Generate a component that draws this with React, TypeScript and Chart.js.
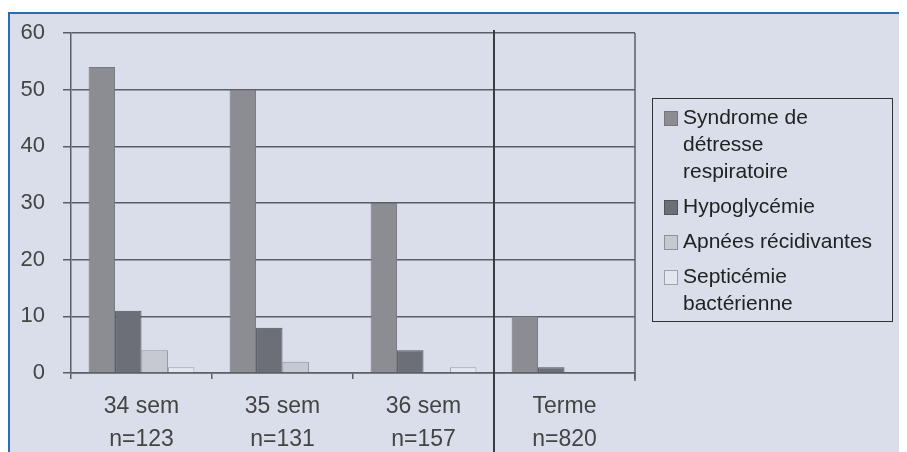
import React, { useEffect, useRef } from "react";
import { Chart, registerables } from "chart.js";

Chart.register(...registerables);

const categories: string[][] = [
  ["34 sem", "n=123"],
  ["35 sem", "n=131"],
  ["36 sem", "n=157"],
  ["Terme", "n=820"],
];
const syndromeValues = [54, 50, 30, 10];
const hypoglycemieValues = [11, 8, 4, 1];
const apneesValues = [4, 2, 0, 0];
const septicemieValues = [1, 0, 1, 0];

const legendLines: string[][] = [
  ["Syndrome de", "détresse", "respiratoire"],
  ["Hypoglycémie"],
  ["Apnées récidivantes"],
  ["Septicémie", "bactérienne"],
];
const fillColors = ["#8b8d93", "#6c6f78", "#c6c9d2", "#e4e7ef"];
const borderColors = ["#74767c", "#50535a", "#8e919a", "#9fa2ab"];

const FONT = "'Liberation Sans', Arial, Helvetica, sans-serif";

const extrasPlugin = {
  id: "extras",
  afterDatasetsDraw(chart: any) {
    const { ctx, chartArea, scales } = chart;
    const x = scales.x;
    ctx.save();
    ctx.strokeStyle = "#5b5e66";
    ctx.lineWidth = 1.5;
    ctx.beginPath();
    ctx.moveTo(chartArea.right, chartArea.top);
    ctx.lineTo(chartArea.right, chartArea.bottom + 8);
    ctx.stroke();
    const sep = (x.getPixelForTick(2) + x.getPixelForTick(3)) / 2;
    ctx.strokeStyle = "#3a3c42";
    ctx.lineWidth = 2;
    ctx.beginPath();
    ctx.moveTo(sep, chartArea.top - 3);
    ctx.lineTo(sep, chart.height);
    ctx.stroke();
    ctx.restore();
  },
  afterDraw(chart: any) {
    const { ctx, chartArea } = chart;
    const boxLeft = chartArea.right + 17;
    const boxTop = chartArea.top + 65;
    const boxW = 240;
    const boxH = 223;
    const lineH = 27;
    const itemGap = 8;
    ctx.save();
    ctx.strokeStyle = "#333";
    ctx.lineWidth = 1;
    ctx.strokeRect(boxLeft + 0.5, boxTop + 0.5, boxW, boxH);
    ctx.font = `21px ${FONT}`;
    ctx.textBaseline = "middle";
    ctx.textAlign = "left";
    let y = boxTop + 20;
    chart.data.datasets.forEach((ds: any, i: number) => {
      const lines = legendLines[i];
      ctx.fillStyle = ds.backgroundColor;
      ctx.strokeStyle = ds.borderColor;
      ctx.fillRect(boxLeft + 12, y - 7, 14, 15);
      ctx.strokeRect(boxLeft + 12.5, y - 6.5, 13, 14);
      ctx.fillStyle = "#222";
      lines.forEach((ln, j) => {
        ctx.fillText(ln, boxLeft + 31, y + j * lineH);
      });
      y += lines.length * lineH + itemGap;
    });
    ctx.restore();
  },
};

export default function App() {
  const ref = useRef<HTMLCanvasElement>(null);
  useEffect(() => {
    if (!ref.current) return;
    const series = [syndromeValues, hypoglycemieValues, apneesValues, septicemieValues];
    const chart = new Chart(ref.current, {
      type: "bar",
      data: {
        labels: categories,
        datasets: series.map((vals, i) => ({
          label: legendLines[i].join(" "),
          data: vals,
          backgroundColor: fillColors[i],
          borderColor: borderColors[i],
          borderWidth: 1,
          categoryPercentage: 0.75,
          barPercentage: 1,
        })),
      },
      options: {
        responsive: false,
        animation: false,
        devicePixelRatio: 1,
        layout: { padding: { top: 19, right: 272, left: 0, bottom: 0 } },
        plugins: { legend: { display: false }, tooltip: { enabled: false } },
        scales: {
          x: {
            grid: {
              offset: true,
              drawOnChartArea: false,
              drawTicks: true,
              tickLength: 6,
              color: "#5b5e66",
              lineWidth: 1.5,
            },
            border: { display: true, color: "#5b5e66", width: 1.5 },
            ticks: {
              color: "#444",
              font: { family: FONT, size: 23, lineHeight: 1.45 },
              padding: 11,
              maxRotation: 0,
            },
            afterFit: (s: any) => {
              s.height = 79;
            },
          },
          y: {
            min: 0,
            max: 60,
            ticks: {
              stepSize: 10,
              color: "#444",
              font: { family: FONT, size: 22 },
              padding: 18,
            },
            grid: { color: "#5b5e66", lineWidth: 1.5, tickLength: 8 },
            border: { display: true, color: "#5b5e66", width: 1.5 },
            afterFit: (s: any) => {
              s.width = 61;
              s.paddingTop = 0;
              s.paddingBottom = 0;
            },
          },
        },
      },
      plugins: [extrasPlugin],
    });
    return () => chart.destroy();
  }, []);
  return (
    <div
      style={{
        marginTop: 4,
        width: 899,
        height: 440,
        boxSizing: "border-box",
        borderTop: "2px solid #2a6cb8",
        borderLeft: "2px solid #2a6cb8",
        background: "#d9deea",
        overflow: "hidden",
      }}
    >
      <canvas ref={ref} width={897} height={438} style={{ display: "block" }} />
    </div>
  );
}
